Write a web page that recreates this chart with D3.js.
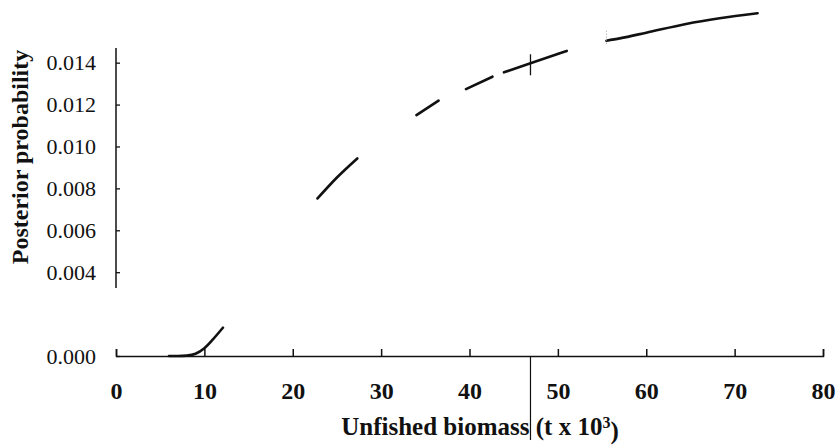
<!DOCTYPE html>
<html>
<head>
<meta charset="utf-8">
<script src="https://cdn.jsdelivr.net/npm/d3@7"></script>
<style>
  body { margin: 0; background: #fff; }
  svg { font-family: "Liberation Serif", "Times New Roman", serif; }
</style>
</head>
<body>
<div id="chart"></div>
<script>
// values, null = part of the curve missing in the scan
var biomass   = [6, 7, 8, 9, 10, 11, 12.1, null,
                 22.8, 25.0, 27.3, null,
                 34.0, 36.5, null,
                 39.6, 42.6, null,
                 43.9, 46.9, 51.0, null,
                 55.5, 57, 60, 64.5, 68.3, 72.6];
var posterior = [0, 0, 0.00002, 0.00011, 0.00037, 0.00081, 0.00135, null,
                 0.00752, 0.00852, 0.00943, null,
                 0.01150, 0.01219, null,
                 0.01274, 0.01333, null,
                 0.01354, 0.01397, 0.01456, null,
                 0.01505, 0.01516, 0.01543, 0.01585, 0.01612, 0.01636];

var xTicks = [0, 10, 20, 30, 40, 50, 60, 70, 80];
var yTicks = [0, 0.004, 0.006, 0.008, 0.010, 0.012, 0.014];

var markB0 = 46.9;     // marked value, line below axis + cross on curve
var markFaint = 55.5;  // faint mark at start of last piece

var width = 836;
var height = 446;

var svg = d3.select("#chart")
  .append("svg")
  .attr("width", width)
  .attr("height", height);

var x = d3.scaleLinear().domain([0, 80]).range([116, 823]);
var y = d3.scaleLinear().domain([0, 0.0147]).range([356, 48]);

var data = biomass.map(function(b, i) {
  return { b: b, p: posterior[i] };
});

// x axis, ticks pointing up
var xAxis = d3.axisBottom(x)
  .tickValues(xTicks)
  .tickSize(-7)
  .tickSizeOuter(-7)
  .tickPadding(26)
  .tickFormat(d3.format("d"));

var gx = svg.append("g")
  .attr("transform", "translate(0," + y(0) + ")")
  .call(xAxis);
gx.attr("font-family", null).attr("font-size", null);
gx.select(".domain").attr("stroke", "#111").attr("stroke-width", 1.5);
gx.selectAll(".tick line").attr("stroke", "#111").attr("stroke-width", 1.5);
gx.selectAll(".tick text")
  .attr("fill", "#111")
  .attr("font-size", 24)
  .attr("font-weight", "bold");

// y axis, ticks pointing right, line broken below 0.004 like the figure
var yAxis = d3.axisLeft(y)
  .tickValues(yTicks)
  .tickSize(-4)
  .tickSizeOuter(0)
  .tickPadding(20)
  .tickFormat(d3.format(".3f"));

var gy = svg.append("g")
  .attr("transform", "translate(" + x(0) + ",0)")
  .call(yAxis);
gy.attr("font-family", null).attr("font-size", null);
gy.select(".domain").remove();
gy.selectAll(".tick line").attr("stroke", "#111").attr("stroke-width", 1.3);
gy.selectAll(".tick text")
  .attr("fill", "#111")
  .attr("font-size", 22);

gy.append("line")
  .attr("x1", 0).attr("x2", 0)
  .attr("y1", y(0.00325))
  .attr("y2", y(0.0147))
  .attr("stroke", "#111")
  .attr("stroke-width", 1.5);

// posterior curve
var line = d3.line()
  .defined(function(d) { return d.p !== null; })
  .x(function(d) { return x(d.b); })
  .y(function(d) { return y(d.p); })
  .curve(d3.curveMonotoneX);

svg.append("path")
  .datum(data)
  .attr("d", line)
  .attr("fill", "none")
  .attr("stroke", "#111")
  .attr("stroke-width", 2.6)
  .attr("stroke-linecap", "round");

// marker at B0
var pAtMark = 0.01397;
svg.append("line")
  .attr("x1", x(markB0)).attr("x2", x(markB0))
  .attr("y1", y(pAtMark) - 9)
  .attr("y2", y(pAtMark) + 12)
  .attr("stroke", "#111")
  .attr("stroke-width", 1.3);

svg.append("line")
  .attr("x1", x(markB0)).attr("x2", x(markB0))
  .attr("y1", y(0))
  .attr("y2", 440)
  .attr("stroke", "#111")
  .attr("stroke-width", 1.2);

svg.append("line")
  .attr("x1", x(markFaint)).attr("x2", x(markFaint))
  .attr("y1", y(0.01505) - 10)
  .attr("y2", y(0.01505) + 3)
  .attr("stroke", "#999")
  .attr("stroke-width", 1)
  .attr("stroke-dasharray", "1,2");

// axis titles
svg.append("text")
  .attr("transform", "translate(28," + 157 + ")rotate(-90)")
  .attr("text-anchor", "middle")
  .attr("font-size", 24)
  .attr("font-weight", "bold")
  .attr("fill", "#111")
  .text("Posterior probability");

var xTitle = svg.append("text")
  .attr("x", 480)
  .attr("y", 435)
  .attr("text-anchor", "middle")
  .attr("font-size", 25)
  .attr("font-weight", "bold")
  .attr("fill", "#111");
xTitle.append("tspan").text("Unfished biomass (t x 10");
xTitle.append("tspan").attr("dy", "-0.45em").attr("font-size", 16).text("3");
xTitle.append("tspan").attr("dy", "0.45em").text(")");
</script>
</body>
</html>
